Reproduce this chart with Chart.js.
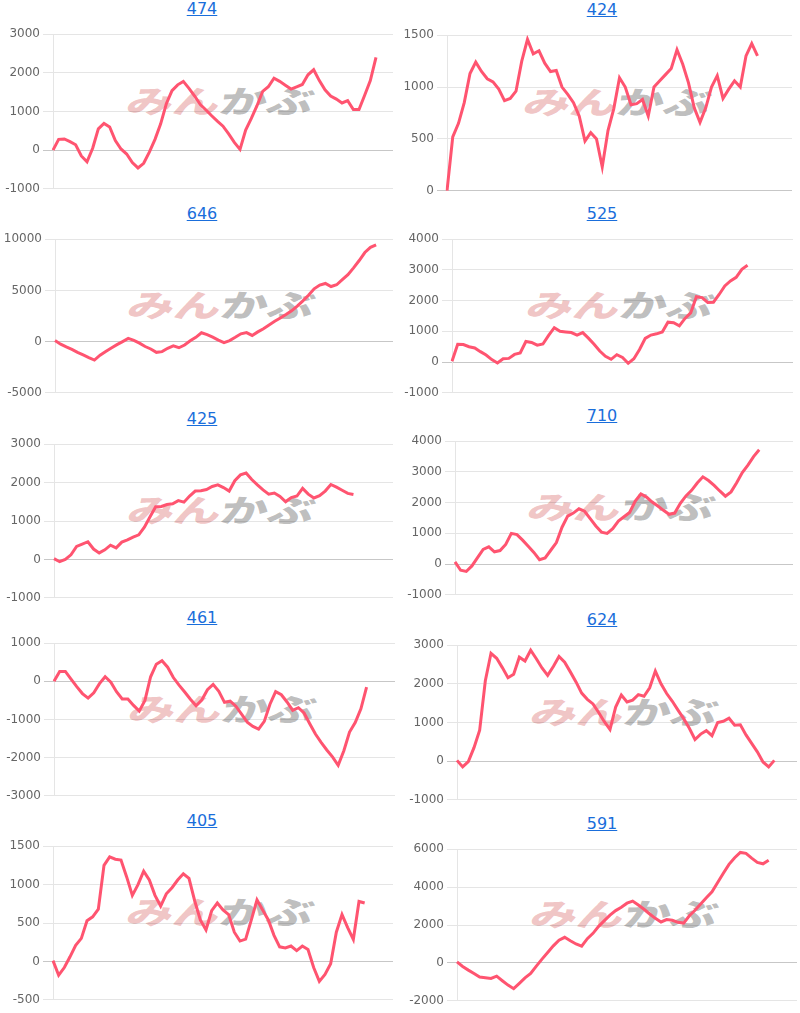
<!DOCTYPE html>
<html>
<head>
<meta charset="utf-8">
<script src="https://cdn.jsdelivr.net/npm/chart.js@4.4.0/dist/chart.umd.min.js"></script>
<style>
html,body{margin:0;padding:0;background:#fff;}
#wrap{position:relative;width:800px;height:1013px;overflow:hidden;}
.title{position:absolute;width:400px;text-align:center;font-family:"DejaVu Sans",sans-serif;font-size:16px;line-height:20px;z-index:2;}
.title a{color:#1a6edb;text-decoration:underline;}
.wm{position:absolute;white-space:nowrap;font-family:"Noto Sans CJK JP",sans-serif;font-weight:900;font-size:31px;line-height:1;z-index:0;transform:translate(-50%,-50%) skewX(-14deg) scaleX(1.5);}
.wm .a{color:rgba(214,90,90,0.36);}
.wm .b{color:rgba(110,110,110,0.45);}
canvas{position:absolute;z-index:1;}
</style>
</head>
<body>
<div id="wrap"></div>
<script>
// ---- data ----
const titles = ['474','424','646','525','425','710','461','624','405','591'];

const s474 = [0,280,290,220,140,-150,-300,50,550,690,600,250,30,-100,-320,-460,-340,-50,280,680,1200,1540,1690,1780,1600,1400,1180,1040,890,750,620,420,200,20,520,820,1150,1520,1640,1860,1780,1680,1580,1640,1700,1950,2080,1800,1560,1400,1320,1220,1280,1050,1050,1420,1800,2400];
const s424 = [0,520,650,850,1130,1240,1150,1080,1050,980,870,890,960,1250,1460,1320,1350,1230,1150,1160,1000,930,850,720,480,560,500,230,580,790,1090,1000,830,840,880,720,1000,1060,1120,1180,1360,1220,1040,800,660,800,1000,1110,890,980,1060,1000,1300,1420,1300];
const s646 = [100,-250,-520,-760,-1050,-1300,-1560,-1800,-1330,-960,-620,-300,0,310,120,-150,-480,-720,-1050,-980,-650,-420,-600,-330,80,420,860,680,430,150,-100,100,420,760,880,600,950,1260,1630,1980,2300,2640,3000,3470,3980,4530,5150,5520,5680,5380,5550,6050,6540,7200,7920,8700,9200,9450];
const s525 = [30,580,570,500,460,340,230,80,-30,110,120,250,300,670,640,550,590,870,1120,1000,980,960,880,960,780,580,360,190,90,240,150,-40,110,410,770,880,920,980,1300,1280,1180,1420,1600,2130,2100,1940,1950,2200,2480,2640,2760,3020,3150];
const s425 = [20,-60,0,120,340,400,460,270,170,250,370,300,450,510,580,640,840,1110,1370,1380,1430,1450,1530,1490,1650,1780,1790,1820,1900,1940,1870,1780,2050,2200,2250,2080,1940,1810,1700,1730,1640,1500,1610,1650,1850,1700,1600,1660,1780,1950,1880,1800,1720,1690];
const s710 = [70,-200,-240,-60,210,480,560,400,440,640,1000,960,780,580,380,140,200,450,700,1200,1560,1660,1800,1720,1480,1240,1040,1000,1150,1400,1540,1680,2050,2280,2180,2020,1890,1750,1620,1660,1980,2220,2400,2640,2840,2720,2560,2380,2210,2350,2650,2980,3220,3500,3720];
const s461 = [0,260,260,60,-140,-320,-440,-300,-60,120,-20,-270,-460,-460,-630,-780,-500,120,450,540,370,100,-100,-280,-470,-640,-490,-220,-80,-260,-550,-520,-650,-860,-1070,-1180,-1250,-1050,-600,-270,-350,-540,-760,-690,-830,-1110,-1380,-1600,-1800,-1980,-2200,-1820,-1330,-1080,-720,-150];
const s624 = [20,-150,-10,350,800,2080,2790,2660,2420,2160,2250,2690,2590,2870,2650,2410,2220,2450,2710,2560,2310,2050,1760,1600,1480,1260,1020,820,1400,1710,1530,1580,1720,1680,1900,2330,2000,1750,1550,1320,1100,850,560,700,790,660,1000,1030,1110,930,940,680,460,240,-20,-150,20];
const s405 = [10,-180,-80,60,210,300,530,580,680,1250,1360,1330,1320,1100,860,1000,1175,1060,860,720,880,960,1060,1140,1080,790,540,410,660,760,670,610,380,265,290,540,800,670,540,340,190,175,200,140,200,155,-80,-260,-170,-30,380,610,440,285,780,760];
const s591 = [50,-190,-380,-560,-750,-780,-820,-700,-940,-1170,-1360,-1080,-790,-560,-170,200,550,900,1200,1350,1170,1000,880,1280,1560,1930,2230,2520,2760,2940,3150,3260,3050,2830,2580,2350,2160,2290,2250,2140,2100,2490,2780,3110,3440,3750,4240,4730,5200,5550,5830,5780,5530,5300,5230,5420];

const seriesList = [s474,s424,s646,s525,s425,s710,s461,s624,s405,s591];

// y tick ranges
const yMin  = [-1000,0,-5000,-1000,-1000,-1000,-3000,-1000,-500,-2000];
const yMax  = [3000,1500,10000,4000,3000,4000,1000,3000,1500,6000];
const yStep = [1000,500,5000,1000,1000,1000,1000,1000,500,2000];

// x categories (hidden axis)
const xLabels = Array.from({length:61},(_,i)=>String(i+1));

// ---- layout (positions) ----
const cellX  = [0,400,0,400,0,400,0,400,0,400];
const axisX  = [53,447,55,452,54,455,54,457,53,457];
const rightX = [393,792,393,793,393,793,395,797,393,797];
const topY   = [32,33,237,237,442,439,641,643,844,847];
const botY   = [191,193,395,395,600,597,798,802,1002,1003];

const LINE = 'rgb(255,84,112)';
const PADT = 8, PADB = 8;
const wrap = document.getElementById('wrap');

seriesList.forEach((data, k) => {
  const cx = cellX[k];
  // title
  const t = document.createElement('div');
  t.className = 'title';
  t.style.left = (cx + 2) + 'px';
  t.style.top = (topY[k] - 33) + 'px';
  t.innerHTML = '<a href="#">' + titles[k] + '</a>';
  wrap.appendChild(t);
  // watermark
  const w = document.createElement('div');
  w.className = 'wm';
  w.style.left = ((axisX[k] + rightX[k]) / 2 - 2) + 'px';
  w.style.top = ((topY[k] + botY[k]) / 2 - 13) + 'px';
  w.innerHTML = '<span class="a">みん</span><span class="b">かぶ</span>';
  wrap.appendChild(w);
  // canvas
  const c = document.createElement('canvas');
  const cw = rightX[k] - cx;
  const ch = botY[k] - topY[k] + PADT + PADB;
  c.width = cw; c.height = ch;
  c.style.width = cw + 'px'; c.style.height = ch + 'px';
  c.style.left = cx + 'px';
  c.style.top = (topY[k] - PADT) + 'px';
  wrap.appendChild(c);
  const aw = axisX[k] - cx;
  new Chart(c.getContext('2d'), {
    type: 'line',
    data: {
      labels: xLabels,
      datasets: [{
        data: data,
        borderColor: LINE,
        borderWidth: 3,
        pointRadius: 0,
        pointHoverRadius: 0,
        tension: 0,
        fill: false
      }]
    },
    options: {
      responsive: false,
      animation: false,
      devicePixelRatio: 1,
      layout: { padding: { top: PADT, bottom: PADB, left: 0, right: 0 } },
      plugins: { legend: { display: false }, tooltip: { enabled: false } },
      scales: {
        x: { display: false },
        y: {
          min: yMin[k], max: yMax[k],
          ticks: {
            stepSize: yStep[k],
            color: '#666',
            padding: 3,
            font: { family: '"DejaVu Sans", sans-serif', size: 12 },
            callback: (v) => String(v)
          },
          grid: {
            color: (ctx) => (ctx.tick && ctx.tick.value === 0) ? 'rgba(0,0,0,0.22)' : 'rgba(0,0,0,0.1)',
            tickLength: 10
          },
          border: { color: 'rgba(0,0,0,0.1)' },
          afterFit: (scale) => { scale.width = aw; }
        }
      }
    }
  });
});
</script>
</body>
</html>
